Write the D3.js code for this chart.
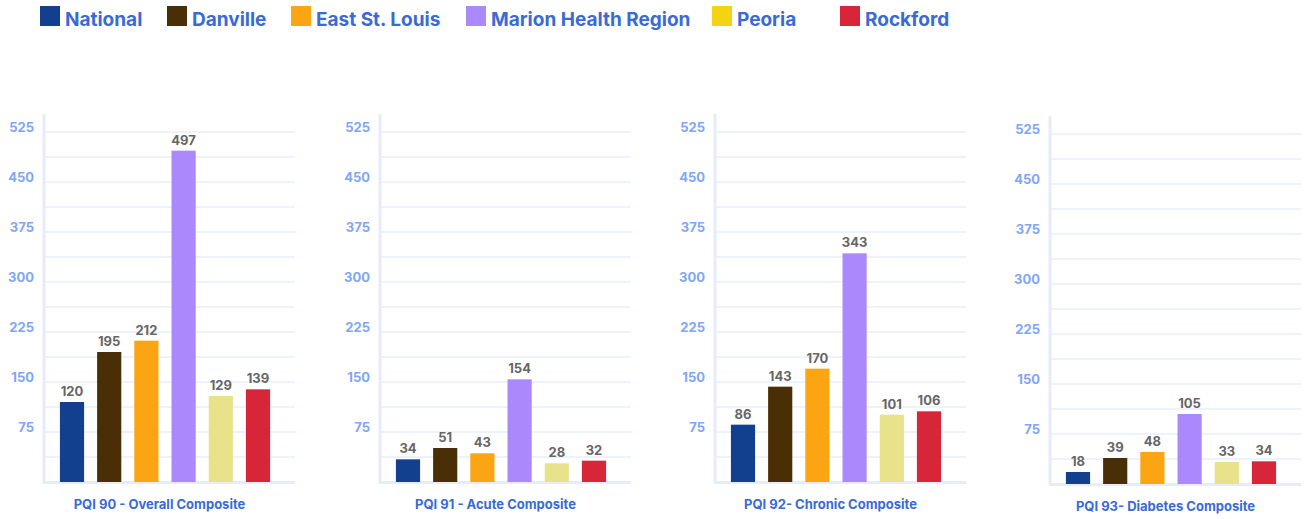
<!DOCTYPE html>
<html>
<head>
<meta charset="utf-8">
<script src="https://cdn.jsdelivr.net/npm/d3@7"></script>
<style>
  body { margin: 0; background: #fff; }
  svg { display: block; font-family: Inter, "Noto Sans", sans-serif; font-weight: 700; }
</style>
</head>
<body>
<script>
// data
var regions = ["National", "Danville", "East St. Louis", "Marion Health Region", "Peoria", "Rockford"];
var panelTitles = ["PQI 90 - Overall Composite", "PQI 91 - Acute Composite", "PQI 92- Chronic Composite", "PQI 93- Diabetes Composite"];
var pqi90 = [120, 195, 212, 497, 129, 139];
var pqi91 = [34, 51, 43, 154, 28, 32];
var pqi92 = [86, 143, 170, 343, 101, 106];
var pqi93 = [18, 39, 48, 105, 33, 34];
var tickValues = [75, 150, 225, 300, 375, 450, 525];

var panelData = [pqi90, pqi91, pqi92, pqi93];

// colours
var legendColors = ["#12408f", "#4a2e05", "#fca512", "#ab88fc", "#f4d313", "#d7253a"];
var barColors = ["#12408f", "#4a2e05", "#fca512", "#ab88fc", "#e8e28a", "#d7253a"];

var width = 1306, height = 519;

var svg = d3.select("body").append("svg")
    .attr("width", width)
    .attr("height", height);

// legend
var legendX = [40, 167, 291, 466, 712, 840];
var legend = svg.append("g").attr("class", "legend");
regions.forEach(function (r, i) {
    legend.append("rect")
        .attr("x", legendX[i]).attr("y", 6)
        .attr("width", 20).attr("height", 20)
        .attr("fill", legendColors[i]);
    legend.append("text")
        .attr("x", legendX[i] + 25).attr("y", 25.5)
        .attr("fill", "#3a6ad6")
        .style("font-size", "19px")
        .text(r);
});

// panels
var axisX = [44, 380, 715, 1050];
var baseY = [482, 482, 482, 484];
var plotW = 251;
var plotH = 350;

panelData.forEach(function (vals, p) {
    var g = svg.append("g")
        .attr("transform", "translate(" + axisX[p] + "," + (baseY[p] - plotH) + ")");

    var y = d3.scaleLinear().domain([0, 525]).range([plotH, 0]);
    var x = d3.scaleBand()
        .domain(regions)
        .range([9.4, 232.6])
        .paddingInner(0.35)
        .paddingOuter(0.175);

    // grid lines every 37.5
    var grid = d3.range(37.5, 526, 37.5);
    g.selectAll("line.grid")
        .data(grid)
        .enter().append("line")
        .attr("class", "grid")
        .attr("x1", 0).attr("x2", plotW)
        .attr("y1", function (d) { return y(d); })
        .attr("y2", function (d) { return y(d); })
        .attr("stroke", "#eef2fd")
        .attr("stroke-width", 2);

    // y axis labels
    var yAxis = d3.axisLeft(y).tickValues(tickValues).tickSize(0).tickPadding(10);
    var ax = g.append("g").call(yAxis);
    ax.select(".domain").remove();
    ax.selectAll("text")
        .attr("fill", "#80a6f6")
        .attr("dy", "-0.05em")
        .style("font-size", "13px")
        .style("font-family", "Inter, sans-serif")
        .style("font-weight", 700);

    // axis lines
    g.append("line")
        .attr("x1", 0).attr("x2", 0)
        .attr("y1", -18).attr("y2", plotH + 1)
        .attr("stroke", "#e6ecfc").attr("stroke-width", 3);
    g.append("line")
        .attr("x1", -1).attr("x2", plotW)
        .attr("y1", plotH + 0.5).attr("y2", plotH + 0.5)
        .attr("stroke", "#e6ecfc").attr("stroke-width", 3);

    // bars
    g.selectAll("rect.bar")
        .data(vals)
        .enter().append("rect")
        .attr("class", "bar")
        .attr("x", function (d, i) { return x(regions[i]); })
        .attr("width", x.bandwidth())
        .attr("y", function (d) { return y(d); })
        .attr("height", function (d) { return plotH - y(d); })
        .attr("fill", function (d, i) { return barColors[i]; });

    // value labels
    g.selectAll("text.val")
        .data(vals)
        .enter().append("text")
        .attr("class", "val")
        .attr("x", function (d, i) { return x(regions[i]) + x.bandwidth() / 2; })
        .attr("y", function (d) { return y(d) - 6; })
        .attr("text-anchor", "middle")
        .attr("fill", "#666666")
        .style("font-size", "13px")
        .text(function (d) { return d; });

    // title
    g.append("text")
        .attr("x", plotW / 2 - 10)
        .attr("y", plotH + 27)
        .attr("text-anchor", "middle")
        .attr("fill", "#3a6ad6")
        .style("font-size", "13px")
        .text(panelTitles[p]);
});
</script>
</body>
</html>
